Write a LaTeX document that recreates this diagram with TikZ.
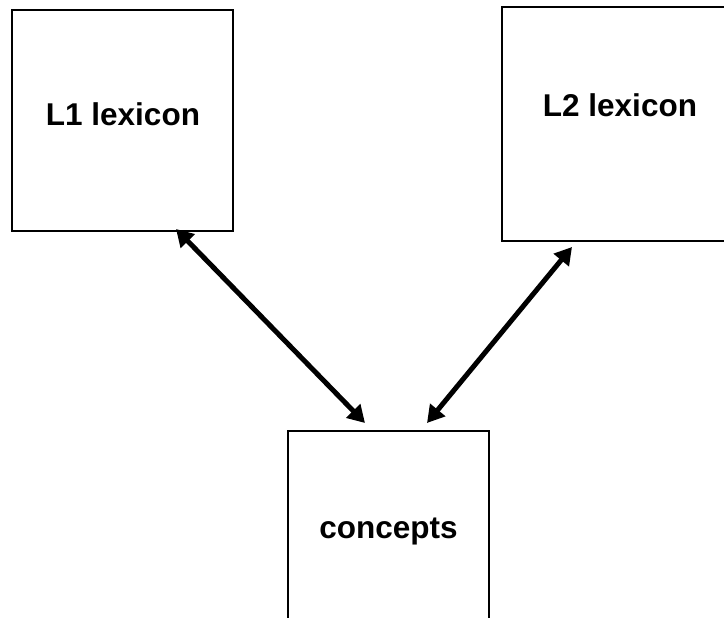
\documentclass[tikz,border=0pt]{standalone}
\usepackage{fontspec}
\setmainfont{Liberation Sans}
\usetikzlibrary{arrows.meta}
\tikzset{
  box/.style={draw=black, line width=2pt, fill=white, inner sep=0pt},
  lbl/.style={font=\fontsize{31.5}{37}\selectfont\bfseries, anchor=base, inner sep=0pt},
  link/.style={line width=5pt, {Triangle[length=17pt,width=19pt]}-{Triangle[length=17pt,width=19pt]}}
}
\begin{document}
\begin{tikzpicture}[x=1pt,y=-1pt]
\useasboundingbox (0,0) rectangle (724,618);
\clip (0,0) rectangle (724,618);
\fill[white] (0,0) rectangle (724,618);
\node[box, minimum width=221pt, minimum height=221pt] (l1box) at (122.5,120.5) {};
\node[box, minimum width=228pt, minimum height=234pt] (l2box) at (616,124) {};
\node[box, minimum width=201pt, minimum height=210pt] (cbox) at (388.5,536) {};
\node[lbl] (l1) at (123,126) {L1 lexicon};
\node[lbl] (l2) at (620,117) {L2 lexicon};
\node[lbl] (c) at (388.5,538) {concepts};
\coordinate (a1) at (176,229);
\coordinate (a2) at (365,423);
\coordinate (b1) at (572,247);
\coordinate (b2) at (427,423);
\draw[link] (a1) -- (a2);
\draw[link] (b1) -- (b2);
\end{tikzpicture}
\end{document}
